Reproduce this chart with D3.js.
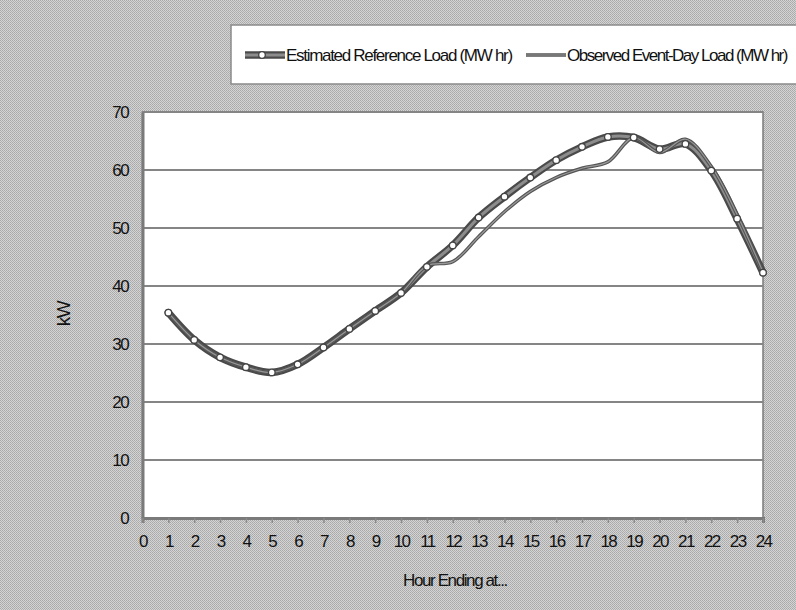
<!DOCTYPE html>
<html>
<head>
<meta charset="utf-8">
<script src="https://cdn.jsdelivr.net/npm/d3@7"></script>
<style>
  html, body { margin: 0; padding: 0; background: #c4c4c4; }
  svg text { font-family: "Liberation Sans Narrow", "Liberation Sans", Arial, sans-serif; fill: #111; }
</style>
</head>
<body>
<div id="chart"></div>
<script>
var hours = [1, 2, 3, 4, 5, 6, 7, 8, 9, 10, 11, 12, 13, 14, 15, 16, 17, 18, 19, 20, 21, 22, 23, 24];
var estimatedLoad = [35.4, 30.7, 27.7, 26.0, 25.1, 26.5, 29.4, 32.6, 35.7, 38.8, 43.3, 47.0,
                     51.8, 55.4, 58.7, 61.7, 64.0, 65.7, 65.6, 63.6, 64.5, 59.9, 51.6, 42.3];
var observedLoad = [35.4, 30.7, 27.7, 26.0, 25.1, 26.5, 29.4, 32.6, 35.7, 38.8, 43.5, 44.2,
                    48.5, 52.8, 56.3, 58.7, 60.3, 61.4, 65.6, 63.0, 65.3, 60.6, 52.3, 42.4];
var xTicks = d3.range(0, 25);
var yTicks = [0, 10, 20, 30, 40, 50, 60, 70];
var seriesNames = ['Estimated Reference Load (MW hr)', 'Observed Event-Day Load (MW hr)'];

var width = 796, height = 610;
var plot = { left: 142.5, right: 763, top: 112, bottom: 518 };

var svg = d3.select('#chart').append('svg')
    .attr('width', width)
    .attr('height', height);

// dithered grey background like the original
var defs = svg.append('defs');
var pat = defs.append('pattern')
    .attr('id', 'dither')
    .attr('width', 2).attr('height', 2)
    .attr('patternUnits', 'userSpaceOnUse');
pat.append('rect').attr('width', 2).attr('height', 2).attr('fill', '#d4d4d4');
pat.append('rect').attr('width', 1).attr('height', 1).attr('fill', '#a8a8a8');
pat.append('rect').attr('x', 1).attr('y', 1).attr('width', 1).attr('height', 1).attr('fill', '#b0b0b0');

svg.append('rect')
    .attr('width', width).attr('height', height)
    .attr('fill', 'url(#dither)');

var x = d3.scaleLinear().domain([0, 24]).range([plot.left, plot.right]);
var y = d3.scaleLinear().domain([0, 70]).range([plot.bottom, plot.top]);

// plot area
svg.append('rect')
    .attr('x', plot.left).attr('y', plot.top)
    .attr('width', plot.right - plot.left)
    .attr('height', plot.bottom - plot.top)
    .attr('fill', '#fff')
    .attr('stroke', '#7a7a7a')
    .attr('stroke-width', 1.5);

// gridlines
svg.append('g')
    .selectAll('line')
    .data(yTicks.slice(1))
    .enter().append('line')
    .attr('x1', plot.left).attr('x2', plot.right)
    .attr('y1', function (d) { return y(d); })
    .attr('y2', function (d) { return y(d); })
    .attr('stroke', '#858585')
    .attr('stroke-width', 2);

// y axis
var yAxis = svg.append('g')
    .attr('transform', 'translate(' + plot.left + ',0)')
    .call(d3.axisLeft(y).tickValues(yTicks).tickSize(0).tickPadding(14));
yAxis.select('.domain').attr('stroke', '#7a7a7a').attr('stroke-width', 3);
yAxis.selectAll('text').style('font-size', '17px').style('letter-spacing', '-1.3px');

// x axis
var xAxis = svg.append('g')
    .attr('transform', 'translate(0,' + plot.bottom + ')')
    .call(d3.axisBottom(x).tickValues(xTicks).tickSize(5).tickPadding(12).tickFormat(d3.format('d')));
xAxis.select('.domain').attr('stroke', '#7a7a7a').attr('stroke-width', 3);
xAxis.selectAll('line').attr('stroke', '#8a8a8a').attr('stroke-width', 1.5);
xAxis.selectAll('text').style('font-size', '17px').style('letter-spacing', '-1.6px');

// axis titles
svg.append('text')
    .attr('transform', 'translate(70,314) rotate(-90)')
    .attr('text-anchor', 'middle')
    .style('font-size', '19px')
    .style('letter-spacing', '-1.5px')
    .text('kW');

svg.append('text')
    .attr('x', 455).attr('y', 586)
    .attr('text-anchor', 'middle')
    .style('font-size', '17px')
    .style('letter-spacing', '-1.4px')
    .text('Hour Ending at...');

var line = d3.line()
    .x(function (d) { return x(d[0]); })
    .y(function (d) { return y(d[1]); })
    .curve(d3.curveCatmullRom.alpha(0.5));

var estPts = hours.map(function (h, i) { return [h, estimatedLoad[i]]; });
var obsPts = hours.map(function (h, i) { return [h, observedLoad[i]]; });

// estimated reference load: thick line with hollow markers
svg.append('path')
    .datum(estPts)
    .attr('d', line)
    .attr('fill', 'none')
    .attr('stroke', '#4a4a4a')
    .attr('stroke-width', 7.5)
    .attr('stroke-linecap', 'round');
svg.append('path')
    .datum(estPts)
    .attr('d', line)
    .attr('fill', 'none')
    .attr('stroke', '#8c8c8c')
    .attr('stroke-width', 3)
    .attr('stroke-linecap', 'round');

// observed event-day load: thin line
svg.append('path')
    .datum(obsPts)
    .attr('d', line)
    .attr('fill', 'none')
    .attr('stroke', '#555')
    .attr('stroke-width', 3.5);
svg.append('path')
    .datum(obsPts)
    .attr('d', line)
    .attr('fill', 'none')
    .attr('stroke', '#999')
    .attr('stroke-width', 1.2);

svg.append('g')
    .selectAll('circle')
    .data(estPts)
    .enter().append('circle')
    .attr('cx', function (d) { return x(d[0]); })
    .attr('cy', function (d) { return y(d[1]); })
    .attr('r', 3.3)
    .attr('fill', '#fff')
    .attr('stroke', '#444')
    .attr('stroke-width', 1.3);

// legend
var legend = svg.append('g');
legend.append('rect')
    .attr('x', 231).attr('y', 25)
    .attr('width', 570).attr('height', 59)
    .attr('fill', '#fff')
    .attr('stroke', '#8a8a8a')
    .attr('stroke-width', 1.5);

var legendItems = [
    { name: seriesNames[0], x0: 245, x1: 285, tx: 286, ls: '-1.3px', marker: true },
    { name: seriesNames[1], x0: 526, x1: 566, tx: 567, ls: '-1.5px', marker: false }
];
legendItems.forEach(function (it) {
    if (it.marker) {
        legend.append('line').attr('x1', it.x0).attr('x2', it.x1).attr('y1', 55).attr('y2', 55)
            .attr('stroke', '#4a4a4a').attr('stroke-width', 7.5);
        legend.append('line').attr('x1', it.x0).attr('x2', it.x1).attr('y1', 55).attr('y2', 55)
            .attr('stroke', '#8c8c8c').attr('stroke-width', 3);
        legend.append('circle').attr('cx', (it.x0 + it.x1) / 2 - 3).attr('cy', 55).attr('r', 3.3)
            .attr('fill', '#fff').attr('stroke', '#444').attr('stroke-width', 1.3);
    } else {
        legend.append('line').attr('x1', it.x0).attr('x2', it.x1).attr('y1', 55).attr('y2', 55)
            .attr('stroke', '#555').attr('stroke-width', 3.5);
        legend.append('line').attr('x1', it.x0).attr('x2', it.x1).attr('y1', 55).attr('y2', 55)
            .attr('stroke', '#999').attr('stroke-width', 1.2);
    }
    legend.append('text')
        .attr('x', it.tx).attr('y', 61)
        .style('font-size', '17px')
        .style('letter-spacing', it.ls)
        .text(it.name);
});
</script>
</body>
</html>
